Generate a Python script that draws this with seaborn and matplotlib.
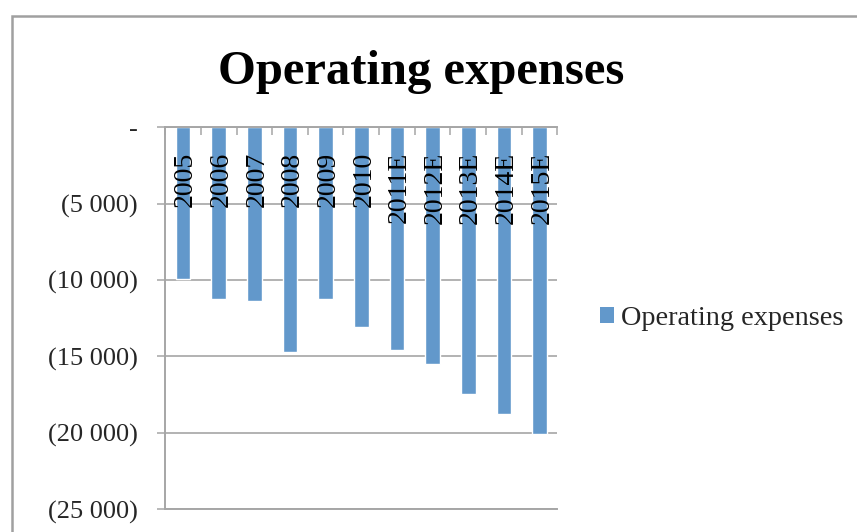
import matplotlib
matplotlib.use("Agg")
import matplotlib.pyplot as plt
from matplotlib.patches import Rectangle, Patch
from matplotlib.ticker import FixedLocator, FuncFormatter
import seaborn as sns
import pandas as pd

# Operating expenses by year (E = estimate)
years = ["2005", "2006", "2007", "2008", "2009", "2010",
         "2011E", "2012E", "2013E", "2014E", "2015E"]
expenses = [-9950, -11250, -11400, -14700, -11250, -13100,
            -14550, -15500, -17450, -18750, -20100]
y_ticks = [0, -5000, -10000, -15000, -20000, -25000]

title = "Operating expenses"
series_name = "Operating expenses"

bar_color = "#6298CB"
line_grey = "#A6A6A6"

sns.set_style("white")
plt.rcParams["font.family"] = ["Liberation Serif", "DejaVu Serif"]

df = pd.DataFrame({"year": years, "expense": expenses})

fig = plt.figure(figsize=(8.57, 5.32), dpi=100)
ax = fig.add_axes([0.1929, 0.0427, 0.4574, 0.718])

sns.barplot(data=df, x="year", y="expense", color=bar_color, width=0.41,
            saturation=1, ax=ax)

ax.set_ylim(y_ticks[-1], y_ticks[0])
ax.set_xlim(-0.5, len(years) - 0.5)
ax.set_xlabel("")
ax.set_ylabel("")


def paren_fmt(v, pos=None):
    if v == 0:
        return "-"
    s = f"{abs(v):,.0f}".replace(",", " ")
    return f"({s})" if v < 0 else s


ax.yaxis.set_major_locator(FixedLocator(y_ticks))
ax.yaxis.set_major_formatter(FuncFormatter(paren_fmt))
ax.tick_params(axis="y", length=6, width=1.1, color=line_grey,
               direction="out", pad=14, labelsize=19, left=True)
ax.yaxis.grid(True, color=line_grey, linewidth=1.2)
ax.set_axisbelow(True)

# category axis sits at zero (top), tick marks between categories pointing down
ax.xaxis.set_ticks_position("top")
ax.set_xticks([i - 0.5 for i in range(len(years) + 1)])
ax.set_xticklabels([])
ax.tick_params(axis="x", length=6, width=1.1, color=line_grey,
               direction="in", top=True, bottom=False)

for side in ["top", "left", "bottom"]:
    ax.spines[side].set_visible(True)
    ax.spines[side].set_color(line_grey)
    ax.spines[side].set_linewidth(1.4)
ax.spines["right"].set_visible(False)

# year labels written vertically just below the zero line
for i, yr in enumerate(years):
    ax.annotate(yr, xy=(i, 0), xytext=(1.8, -17.5), textcoords="offset points",
                rotation=90, ha="center", va="top", fontsize=20,
                color="black")

handle = Patch(facecolor=bar_color, edgecolor="none", label=series_name)
ax.legend(handles=[handle], loc="center left",
          bbox_to_anchor=(0.700, 0.401), bbox_transform=fig.transFigure,
          frameon=False, fontsize=20.3, borderpad=0, borderaxespad=0,
          handlelength=0.5, handleheight=0.5, handletextpad=0.25)

fig.text(0.4918, 0.843, title, ha="center", va="baseline",
         fontsize=35, fontweight="bold", color="black")

# chart frame
fig.patches.append(Rectangle((11.5 / 857, -0.1), 2, 0.970 + 0.1,
                             transform=fig.transFigure, fill=False,
                             edgecolor="#A0A0A0", linewidth=1.8))

fig.savefig("out.png", dpi=100, facecolor="white")
